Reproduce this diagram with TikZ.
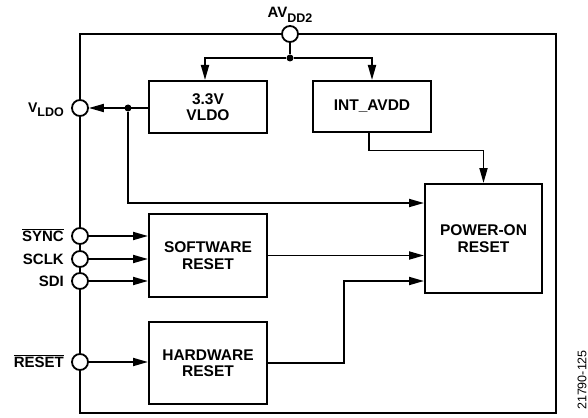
\documentclass[tikz,border=0pt]{standalone}
\usepackage{fontspec}
\setmainfont{Liberation Sans}
\usetikzlibrary{arrows.meta}
\tikzset{
  blk/.style={draw, line width=2pt, minimum width=118pt, align=center, inner sep=0pt,
    font=\fontsize{15.5}{16.5}\selectfont\bfseries},
  pin/.style={circle, draw, fill=white, line width=1.8pt, minimum size=16pt, inner sep=0pt},
  lbl/.style={font=\fontsize{15}{16}\selectfont\bfseries, inner sep=0pt},
  wire/.style={line width=1.8pt},
  arr/.style={wire, -{Triangle[length=15pt,width=8pt]}},
  dot/.style={circle, fill=black, minimum size=7pt, inner sep=0pt}
}
\newcommand{\subtx}[1]{\raisebox{-4.5pt}{\fontsize{12.5}{12.5}\selectfont #1}}
\begin{document}
\begin{tikzpicture}[x=1pt,y=-1pt]
\useasboundingbox (0,0) rectangle (588,417);
% outer border
\draw[line width=2.8pt] (80,34) rectangle (556,413);
% pins
\node[pin] (avdd) at (290,34) {};
\node[pin] (vpin) at (80,108) {};
\node[pin] (sync) at (80,236) {};
\node[pin] (sclk) at (80,259) {};
\node[pin] (sdi) at (80,281) {};
\node[pin] (rst) at (80,362) {};
% pin labels
\node[lbl, anchor=base] (lavdd) at (290,18) {AV\subtx{DD2}};
\node[lbl, anchor=base east] (lvldo) at (64,112) {\fontsize{14}{14}\selectfont V\subtx{LDO}};
\node[lbl, anchor=base east] (lsync) at (64,241.5) {$\overline{\mbox{SYNC}}$};
\node[lbl, anchor=base east] (lsclk) at (64,264.5) {SCLK};
\node[lbl, anchor=base east] (lsdi) at (64,286.5) {SDI};
\node[lbl, anchor=base east] (lrst) at (64,367.5) {$\overline{\mbox{RESET}}$};
% blocks
\node[blk, minimum height=52pt] (vbox) at (208,107) {3.3V\\VLDO};
\node[blk, minimum height=51pt] (ibox) at (372,106.5) {INT\_AVDD};
\node[blk, minimum width=117pt, minimum height=109pt] (por) at (483.5,238.5) {POWER-ON\\RESET};
\node[blk, minimum height=83pt] (sw) at (208,255.5) {SOFTWARE\\RESET};
\node[blk, minimum height=82pt] (hw) at (208,363) {HARDWARE\\RESET};
% junctions
\node[dot] (j1) at (290,58) {};
\node[dot] (j2) at (128,108) {};
% connectors
\draw[wire] (avdd.south) -- (j1);
\draw[arr] (j1) -| ([xshift=-3pt]vbox.north);
\draw[arr] (j1) -| (ibox.north);
\draw[arr] (vbox.west |- j2) -- (vpin.east);
\draw[arr] (j2) |- ([yshift=35.5pt]por.west);
\draw[arr] ([xshift=-3pt]ibox.south) -- ++(0,17.5) -| (por.north);
\draw[arr] (sw.east) -- (sw.east -| por.west);
\draw[arr] (hw.east) -- ++(76,0) |- ([yshift=-42.5pt]por.west);
\draw[arr] (sync.east) -- (sync.east -| sw.west);
\draw[arr] (sclk.east) -- (sclk.east -| sw.west);
\draw[arr] (sdi.east) -- (sdi.east -| sw.west);
\draw[arr] (rst.east) -- (rst.east -| hw.west);
% figure id
\node[rotate=90, font=\fontsize{12.5}{12.5}\selectfont, inner sep=0pt] (fid) at (582,380) {21790-125};
\end{tikzpicture}
\end{document}
